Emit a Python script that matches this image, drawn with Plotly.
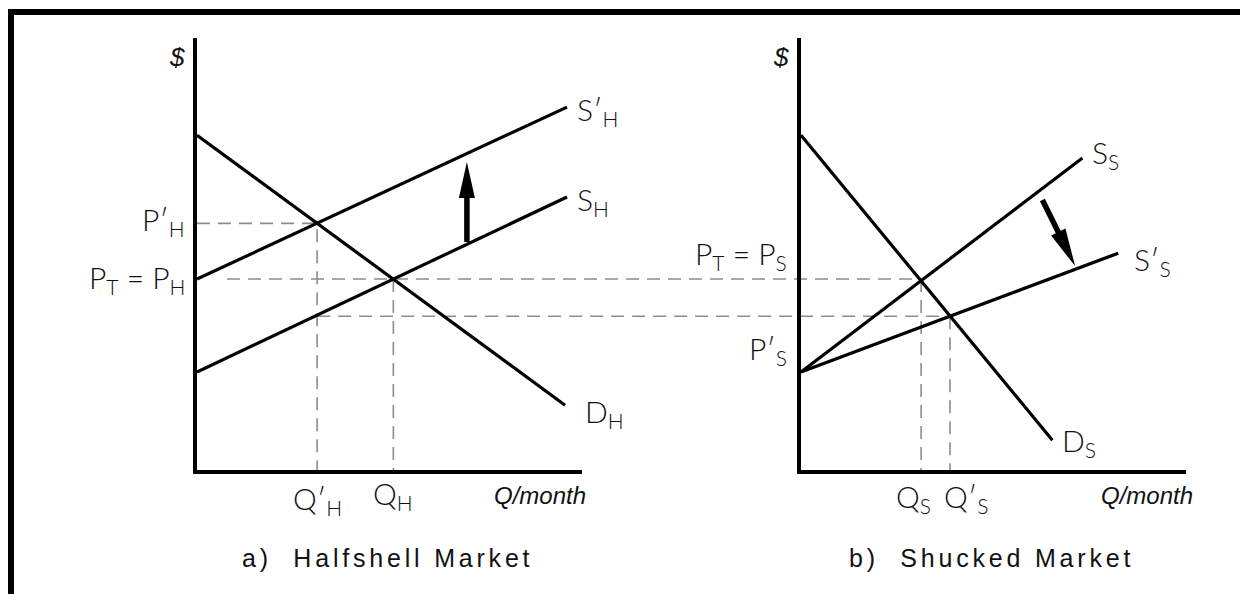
import plotly.graph_objects as go

# ---------------- data (economic units: Q 0-10, P 0-10) ----------------
# a) Halfshell market
dh_q = [0.0, 9.56]
dh_p = [7.75, 1.50]
sh_q = [0.0, 9.61]
sh_p = [2.27, 6.32]
sh2_q = [0.0, 9.61]
sh2_p = [4.42, 8.40]
# b) Shucked market
ds_q = [0.0, 6.53]
ds_p = [7.75, 0.69]
ss_q = [0.0, 7.31]
ss_p = [2.27, 7.22]
ss2_q = [0.0, 8.24]
ss2_p = [2.27, 5.02]

# equilibrium values
QH_PRIME, PH_PRIME = 3.12, 5.71
QH, PT = 5.10, 4.42
QS, QS_PRIME, PS_PRIME = 3.12, 3.87, 3.56

# shift arrows (start -> tip)
arrow_h = [(7.01, 5.28), (7.01, 7.13)]
arrow_s = [(6.27, 6.25), (7.12, 4.72)]

# labels
lab_ph_prime = "P′<sub>H</sub>"
lab_pt_ph = "P<sub>T</sub> = P<sub>H</sub>"
lab_sh_prime = "S′<sub>H</sub>"
lab_sh = "S<sub>H</sub>"
lab_dh = "D<sub>H</sub>"
lab_qh_prime = "Q′<sub>H</sub>"
lab_qh = "Q<sub>H</sub>"
lab_pt_ps = "P<sub>T</sub> = P<sub>S</sub>"
lab_ps_prime = "P′<sub>S</sub>"
lab_ss = "S<sub>S</sub>"
lab_ss_prime = "S′<sub>S</sub>"
lab_ds = "D<sub>S</sub>"
lab_qs = "Q<sub>S</sub>"
lab_qs_prime = "Q′<sub>S</sub>"
title_a = "a)  Halfshell Market"
title_b = "b)  Shucked Market"

# ---------------- layout geometry (pixels, figure coords) ----------------
W, H = 1240, 586
OX_L, OX_R, OY = 189, 793, 462      # panel origins
AX_LEN, AY_LEN = 385, 432           # axis lengths
Q_MAX, P_MAX = 10.0, 10.0
SX, SY = AX_LEN / Q_MAX, AY_LEN / P_MAX
SHIFT_R = (OX_R - OX_L) / SX        # right-panel origin in overlay units

ydom = [(H - OY) / H, (H - OY + AY_LEN) / H]

LABEL_FONT = dict(family="Lato, 'Noto Sans', sans-serif", size=30, color="#111", weight=300)
AX_FONT = dict(family="'Liberation Sans', Arial, sans-serif", size=24, color="#111", style="italic")
TITLE_FONT = dict(family="'Liberation Sans', Arial, sans-serif", size=25, color="#111")

fig = go.Figure()

dash_style = dict(color="#8c8c8c", width=1.6, dash="13px,8px")
solid = dict(color="black", width=3.2)

# connectors across panels (overlay axes x / y)
fig.add_trace(go.Scatter(x=[0.78, QS + SHIFT_R], y=[PT, PT], mode="lines",
                         line=dash_style, xaxis="x", yaxis="y", hoverinfo="skip"))
fig.add_trace(go.Scatter(x=[QH_PRIME, QS_PRIME + SHIFT_R], y=[PS_PRIME, PS_PRIME], mode="lines",
                         line=dash_style, xaxis="x", yaxis="y", hoverinfo="skip"))

# left panel dashed
fig.add_trace(go.Scatter(x=[0, QH_PRIME, QH_PRIME], y=[PH_PRIME, PH_PRIME, 0], mode="lines",
                         line=dash_style, xaxis="x2", yaxis="y2", hoverinfo="skip"))
fig.add_trace(go.Scatter(x=[QH, QH], y=[PT, 0], mode="lines",
                         line=dash_style, xaxis="x2", yaxis="y2", hoverinfo="skip"))
# right panel dashed
fig.add_trace(go.Scatter(x=[QS, QS], y=[PT, 0], mode="lines",
                         line=dash_style, xaxis="x3", yaxis="y3", hoverinfo="skip"))
fig.add_trace(go.Scatter(x=[QS_PRIME, QS_PRIME], y=[PS_PRIME, 0], mode="lines",
                         line=dash_style, xaxis="x3", yaxis="y3", hoverinfo="skip"))

# curves
for q, p in [(dh_q, dh_p), (sh_q, sh_p), (sh2_q, sh2_p)]:
    fig.add_trace(go.Scatter(x=q, y=p, mode="lines", line=solid, xaxis="x2", yaxis="y2",
                             hoverinfo="skip"))
for q, p in [(ds_q, ds_p), (ss_q, ss_p), (ss2_q, ss2_p)]:
    fig.add_trace(go.Scatter(x=q, y=p, mode="lines", line=solid, xaxis="x3", yaxis="y3",
                             hoverinfo="skip"))


def arrow_polygon(start, tip, shaft_w, head_len, head_w):
    x0, y0 = start[0] * SX, start[1] * SY
    x1, y1 = tip[0] * SX, tip[1] * SY
    dx, dy = x1 - x0, y1 - y0
    L = (dx * dx + dy * dy) ** 0.5
    ux, uy = dx / L, dy / L
    nx, ny = -uy, ux
    hx, hy = x1 - ux * head_len, y1 - uy * head_len
    pts = [
        (x0 + nx * shaft_w / 2, y0 + ny * shaft_w / 2),
        (hx + nx * shaft_w / 2, hy + ny * shaft_w / 2),
        (hx + nx * head_w / 2, hy + ny * head_w / 2),
        (x1, y1),
        (hx - nx * head_w / 2, hy - ny * head_w / 2),
        (hx - nx * shaft_w / 2, hy - ny * shaft_w / 2),
        (x0 - nx * shaft_w / 2, y0 - ny * shaft_w / 2),
        (x0 + nx * shaft_w / 2, y0 + ny * shaft_w / 2),
    ]
    return [p[0] / SX for p in pts], [p[1] / SY for p in pts]


ax_, ay_ = arrow_polygon(arrow_h[0], arrow_h[1], 5.5, 36, 16)
fig.add_trace(go.Scatter(x=ax_, y=ay_, mode="lines", fill="toself", fillcolor="black",
                         line=dict(width=0, color="black"), xaxis="x2", yaxis="y2",
                         hoverinfo="skip"))
ax_, ay_ = arrow_polygon(arrow_s[0], arrow_s[1], 5.5, 38, 16)
fig.add_trace(go.Scatter(x=ax_, y=ay_, mode="lines", fill="toself", fillcolor="black",
                         line=dict(width=0, color="black"), xaxis="x3", yaxis="y3",
                         hoverinfo="skip"))

ann = []


def A(text, x, y, ref, xanchor="center", yanchor="middle", xshift=0, yshift=0, font=LABEL_FONT):
    ann.append(dict(text=text, x=x, y=y, xref="x" + ref, yref="y" + ref, showarrow=False,
                    xanchor=xanchor, yanchor=yanchor, xshift=xshift, yshift=yshift, font=font))


DOLLAR_FONT = dict(AX_FONT, size=26)
# left panel labels
A("$", 0, 9.56, "2", xanchor="right", xshift=-10, font=DOLLAR_FONT)
A(lab_ph_prime, 0, PH_PRIME, "2", xanchor="right", xshift=-10, yshift=2)
A(lab_pt_ph, 0, PT, "2", xanchor="right", xshift=-10, yshift=0)
A(lab_sh_prime, sh2_q[1], sh2_p[1], "2", xanchor="left", xshift=8, yshift=-4)
A(lab_sh, sh_q[1], sh_p[1], "2", xanchor="left", xshift=8, yshift=-4)
A(lab_dh, dh_q[1], dh_p[1], "2", xanchor="left", xshift=18, yshift=-8)
A(lab_qh_prime, QH_PRIME, 0, "2", yanchor="top", yshift=-8)
A(lab_qh, QH, 0, "2", yanchor="top", yshift=-3)
A("Q/month", Q_MAX, 0, "2", xanchor="right", yanchor="top", xshift=6, yshift=-10, font=AX_FONT)

# right panel labels
A("$", 0, 9.56, "3", xanchor="right", xshift=-10, font=DOLLAR_FONT)
A(lab_pt_ps, 0, PT, "3", xanchor="right", yanchor="middle", xshift=-12, yshift=24)
A(lab_ps_prime, 0, ss_p[0], "3", xanchor="right", yanchor="middle", xshift=-12, yshift=22)
A(lab_ss, ss_q[1], ss_p[1], "3", xanchor="left", xshift=8, yshift=4)
A(lab_ss_prime, ss2_q[1], ss2_p[1], "3", xanchor="left", xshift=14, yshift=-8)
A(lab_ds, ds_q[1], ds_p[1], "3", xanchor="left", xshift=8, yshift=-2)
A(lab_qs, QS, 0, "3", xanchor="right", yanchor="top", xshift=12, yshift=-6)
A(lab_qs_prime, QS_PRIME, 0, "3", xanchor="left", yanchor="top", xshift=-8, yshift=-6)
A("Q/month", Q_MAX, 0, "3", xanchor="right", yanchor="top", xshift=9, yshift=-10, font=AX_FONT)

# panel titles
for t, ref, xc in [(title_a, "2", 4.95), (title_b, "3", 4.95)]:
    A('<span style="letter-spacing:3.8px">' + t + "</span>", xc, 0, ref,
      yanchor="middle", yshift=-88, font=TITLE_FONT)

axis_common = dict(showgrid=False, zeroline=False, showticklabels=False, ticks="",
                   showline=True, linecolor="black", linewidth=4, fixedrange=True)
hidden = dict(visible=False, fixedrange=True)

fig.update_layout(
    width=W, height=H, margin=dict(l=0, r=0, t=0, b=0),
    paper_bgcolor="white", plot_bgcolor="rgba(0,0,0,0)", showlegend=False,
    xaxis=dict(hidden, domain=[0, 1], range=[-OX_L / SX, (W - OX_L) / SX]),
    yaxis=dict(hidden, domain=ydom, range=[0, P_MAX]),
    xaxis2=dict(axis_common, domain=[OX_L / W, (OX_L + AX_LEN) / W], range=[0, Q_MAX], anchor="y2"),
    yaxis2=dict(axis_common, domain=ydom, range=[0, P_MAX], anchor="x2"),
    xaxis3=dict(axis_common, domain=[OX_R / W, (OX_R + AX_LEN) / W], range=[0, Q_MAX], anchor="y3"),
    yaxis3=dict(axis_common, domain=ydom, range=[0, P_MAX], anchor="x3"),
    annotations=ann,
    shapes=[
        dict(type="line", xref="paper", yref="paper", x0=0, x1=1, y0=1 - 4 / H, y1=1 - 4 / H,
             line=dict(color="black", width=6)),
        dict(type="line", xref="paper", yref="paper", x0=3 / W, x1=3 / W, y0=0, y1=1 - 1 / H,
             line=dict(color="black", width=6)),
    ],
)

fig.write_html("out.html")
